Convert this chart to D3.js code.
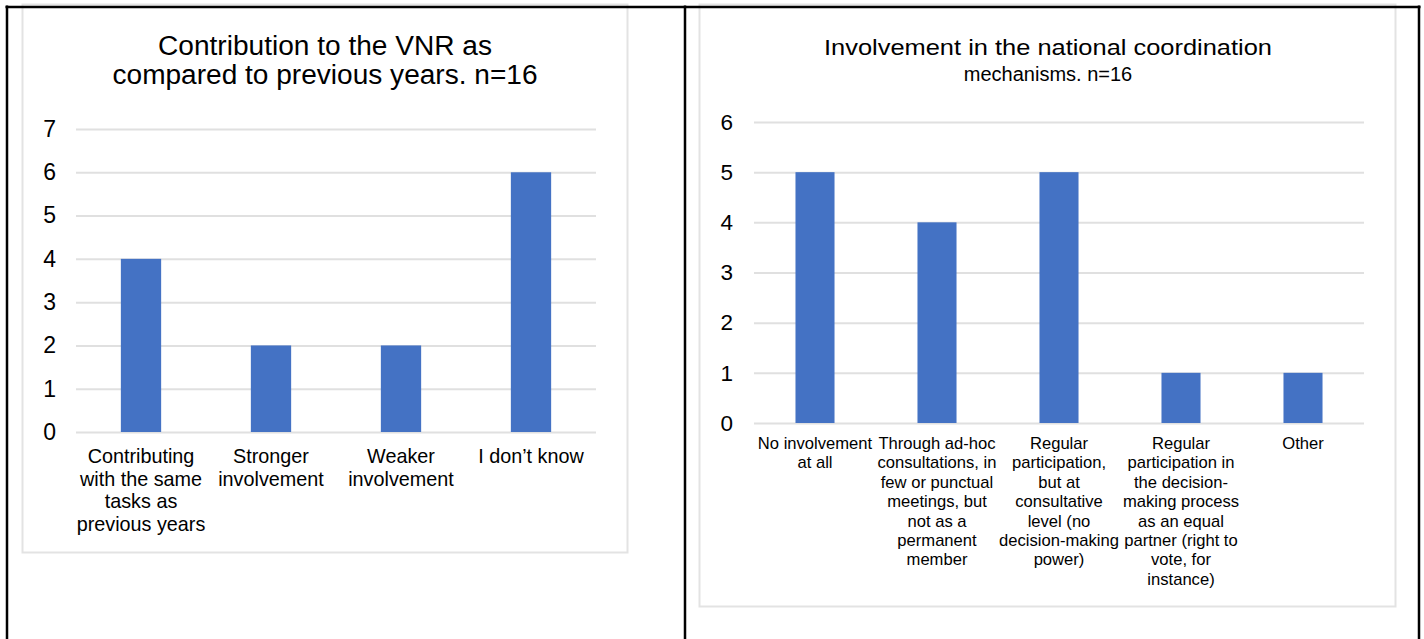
<!DOCTYPE html>
<html>
<head>
<meta charset="utf-8">
<script src="https://cdn.jsdelivr.net/npm/d3@7"></script>
<style>
  html, body { margin: 0; padding: 0; background: #fff; }
  svg { display: block; font-family: "Liberation Sans", Arial, sans-serif; }
</style>
</head>
<body>
<svg id="chart" width="1424" height="639"></svg>
<script>
// Chart 1: contribution to the VNR (n=16)
const vnrTitle = ["Contribution to the VNR as", "compared to previous years. n=16"];
const vnrCategories = [
  "Contributing\nwith the same\ntasks as\nprevious years",
  "Stronger\ninvolvement",
  "Weaker\ninvolvement",
  "I don\u2019t know"
];
const vnrValues = [4, 2, 2, 6];
const vnrTicks = [0, 1, 2, 3, 4, 5, 6, 7];

// Chart 2: involvement in national coordination mechanisms (n=16)
const coordTitle = ["Involvement in the national coordination", "mechanisms. n=16"];
const coordCategories = [
  "No involvement\nat all",
  "Through ad-hoc\nconsultations, in\nfew or punctual\nmeetings, but\nnot as a\npermanent\nmember",
  "Regular\nparticipation,\nbut at\nconsultative\nlevel (no\ndecision-making\npower)",
  "Regular\nparticipation in\nthe decision-\nmaking process\nas an equal\npartner (right to\nvote, for\ninstance)",
  "Other"
];
const coordValues = [5, 4, 5, 1, 1];
const coordTicks = [0, 1, 2, 3, 4, 5, 6];

const svg = d3.select("#chart");
const BAR = "#4472C4";
const GRID = "#E0E0E0";
const FRAME = "#E3E3E3";

function drawPanel(cfg) {
  const g = svg.append("g");

  // chart area frame
  g.append("rect")
    .attr("x", cfg.frame[0] + 0.5).attr("y", cfg.frame[1] + 0.5)
    .attr("width", cfg.frame[2] - cfg.frame[0]).attr("height", cfg.frame[3] - cfg.frame[1])
    .attr("fill", "#fff").attr("stroke", FRAME).attr("stroke-width", 2);

  // title lines (a null width keeps the natural text length)
  const title = g.append("g")
    .attr("text-anchor", "middle")
    .attr("fill", "#000");
  cfg.title.forEach((line, i) => {
    const t = title.append("text")
      .attr("x", cfg.titleX)
      .attr("y", cfg.titleY + i * cfg.titleLead)
      .attr("font-size", cfg.titleSizes[i])
      .text(line);
    if (cfg.titleWidths[i]) {
      t.attr("textLength", cfg.titleWidths[i])
       .attr("lengthAdjust", "spacingAndGlyphs");
    }
  });

  const x = d3.scaleBand()
    .domain(cfg.categories)
    .range([cfg.x0, cfg.x1])
    .paddingInner(cfg.pad)
    .paddingOuter(cfg.pad / 2);

  const y = d3.scaleLinear()
    .domain([0, d3.max(cfg.ticks)])
    .range([cfg.y0, cfg.y1]);

  // value axis with gridlines
  const yAxis = g.append("g")
    .attr("transform", `translate(${cfg.x0},0)`)
    .call(d3.axisLeft(y)
      .tickValues(cfg.ticks)
      .tickFormat(d3.format("d"))
      .tickSize(-(cfg.x1 - cfg.x0))
      .tickPadding(cfg.tickPad));
  yAxis.select(".domain").remove();
  yAxis.selectAll(".tick line")
    .attr("stroke", GRID).attr("stroke-width", 2);
  yAxis.selectAll(".tick text")
    .attr("font-size", cfg.tickSize)
    .attr("font-family", "Liberation Sans, Arial, sans-serif")
    .attr("fill", "#000");

  // bars
  g.append("g").selectAll("rect")
    .data(cfg.values)
    .join("rect")
    .attr("x", (d, i) => x(cfg.categories[i]))
    .attr("y", d => y(d))
    .attr("width", x.bandwidth())
    .attr("height", d => y(0) - y(d))
    .attr("fill", BAR);

  // category labels
  const labels = g.append("g")
    .attr("text-anchor", "middle")
    .attr("font-size", cfg.catSize)
    .attr("fill", "#000");
  cfg.categories.forEach(cat => {
    const t = labels.append("text");
    cat.split("\n").forEach((line, i) => {
      t.append("tspan")
        .attr("x", x(cat) + x.bandwidth() / 2)
        .attr("y", cfg.catY + i * cfg.catLead)
        .text(line);
    });
  });
}

drawPanel({
  frame: [22, 4, 627, 552],
  title: vnrTitle, titleX: 325, titleY: 55, titleLead: 28.5, titleSizes: [27, 27],
  titleWidths: [334, 425],
  categories: vnrCategories, values: vnrValues, ticks: vnrTicks,
  x0: 76, x1: 596, y0: 432, y1: 129, pad: 0.69,
  tickSize: 23, tickPad: 20,
  catSize: 19.8, catY: 463, catLead: 22.7
});

drawPanel({
  frame: [699, 4, 1395, 606],
  title: coordTitle, titleX: 1048, titleY: 55, titleLead: 25.5, titleSizes: [22, 20],
  titleWidths: [448, null],
  categories: coordCategories, values: coordValues, ticks: coordTicks,
  x0: 754, x1: 1364, y0: 423, y1: 122, pad: 0.68,
  tickSize: 22.5, tickPad: 21,
  catSize: 16.6, catY: 449, catLead: 19.4
});

// outer table rules
const rules = svg.append("g").attr("stroke", "#000").attr("stroke-width", 2.5).attr("fill", "none");
rules.append("line").attr("x1", 5.5).attr("x2", 1420.5).attr("y1", 7).attr("y2", 7);
rules.append("line").attr("x1", 7).attr("x2", 7).attr("y1", 5.5).attr("y2", 639);
rules.append("line").attr("x1", 685).attr("x2", 685).attr("y1", 5.5).attr("y2", 639);
rules.append("line").attr("x1", 1419).attr("x2", 1419).attr("y1", 5.5).attr("y2", 639);
</script>
</body>
</html>
